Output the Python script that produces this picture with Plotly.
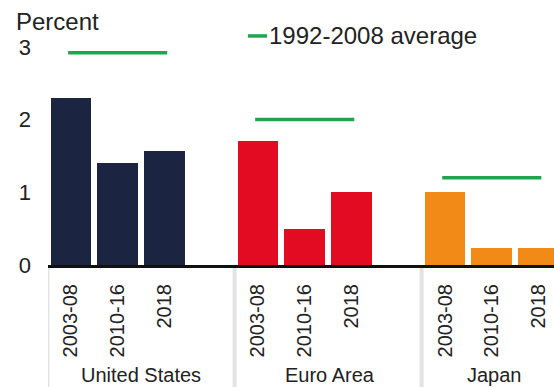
import plotly.graph_objects as go

# ---- data ----
groups = ["United States", "Euro Area", "Japan"]
periods = ["2003-08", "2010-16", "2018"]
us_values = [2.3, 1.4, 1.57]
ea_values = [1.7, 0.5, 1.0]
jp_values = [1.0, 0.23, 0.23]
avg_1992_2008 = [2.92, 2.0, 1.2]
y_ticks = [0, 1, 2, 3]
y_tick_labels = ["0", "1", "2", "3"]
legend_label = "1992-2008 average"
y_title = "Percent"

# ---- styles ----
group_colors = ["#1b2542", "#e20b22", "#f28a18"]
avg_color = "#1da64d"
font_family = "Liberation Sans, Arial, sans-serif"
text_color = "#222222"
slot = 4  # slots per group (3 bars + gap)
group_label_x = [1.5, 5.55, 9.05]

series = [us_values, ea_values, jp_values]

fig = go.Figure()
tickvals, ticktext = [], []
for g, (name, vals) in enumerate(zip(groups, series)):
    xs = [g * slot + j for j in range(len(periods))]
    tickvals += xs
    ticktext += periods
    fig.add_trace(go.Bar(
        x=xs, y=vals, name=name, width=0.87,
        marker=dict(color=group_colors[g], line=dict(width=0)),
        showlegend=False,
    ))
    fig.add_trace(go.Scatter(
        x=[xs[0] - 0.06, xs[-1] + 0.06], y=[avg_1992_2008[g]] * 2,
        mode="lines", line=dict(color=avg_color, width=3.5),
        showlegend=False, hoverinfo="skip",
    ))

# group separators
for g in range(len(groups)):
    sx = g * slot - 0.5
    fig.add_shape(type="line", xref="x", yref="paper",
                  x0=sx, x1=sx, y0=-0.01, y1=-0.56,
                  line=dict(color="#e3e3e3", width=4), layer="below")

# group labels
for g, name in enumerate(groups):
    fig.add_annotation(x=group_label_x[g], xref="x", y=-0.49, yref="paper",
                       text=name, showarrow=False, xanchor="center", yanchor="middle",
                       font=dict(size=20, color=text_color, family=font_family))

# y title
fig.add_annotation(x=-0.068, xref="paper", y=1.08, yref="paper", text=y_title,
                   showarrow=False, xanchor="left", yanchor="middle",
                   font=dict(size=24, color=text_color, family=font_family))

# legend (manual)
fig.add_shape(type="line", xref="paper", yref="paper",
              x0=0.395, x1=0.433, y0=1.018, y1=1.018,
              line=dict(color=avg_color, width=3.5))
fig.add_annotation(x=0.432, xref="paper", y=1.018, yref="paper", text=legend_label,
                   showarrow=False, xanchor="left", yanchor="middle",
                   font=dict(size=24, color=text_color, family=font_family))

fig.update_layout(
    width=554, height=387,
    margin=dict(l=48, r=0, t=40, b=122),
    plot_bgcolor="white", paper_bgcolor="white",
    font=dict(family=font_family, color=text_color, size=20),
    bargap=0,
    xaxis=dict(range=[-0.49, 10.33], tickvals=tickvals, ticktext=ticktext,
               tickangle=-90, ticks="", showgrid=False, zeroline=False,
               showline=True, linecolor="#111111", linewidth=3,
               ticklabelstandoff=8, tickfont=dict(size=20)),
    yaxis=dict(range=[0, 3.095], tickvals=y_ticks, ticktext=y_tick_labels,
               showgrid=False, zeroline=False, showline=False, ticks="",
               ticklabelstandoff=16, tickfont=dict(size=22)),
)

fig.write_html("out.html")
